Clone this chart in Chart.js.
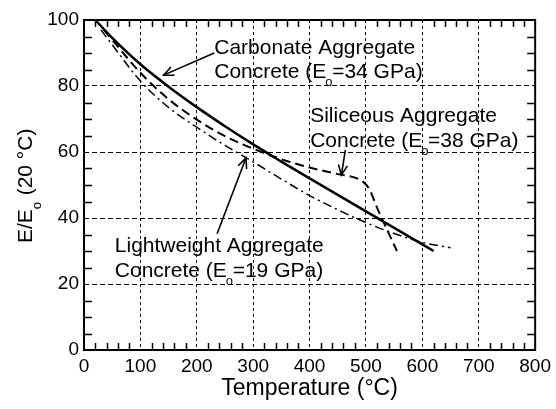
<!DOCTYPE html>
<html>
<head>
<meta charset="utf-8">
<script src="https://cdn.jsdelivr.net/npm/chart.js@4/dist/chart.umd.min.js"></script>
<style>html,body{margin:0;padding:0;background:#fff}canvas{display:block}</style>
</head>
<body>
<canvas id="c" width="556" height="409"></canvas>
<script>
/* ===== DATA ===== */
const xTickVals=[0,100,200,300,400,500,600,700,800];
const yTickVals=[0,20,40,60,80,100];

// carbonate aggregate concrete (solid)
const carbT=[20,50,100,150,200,250,300,350,400,450,500,550,600,620];
const carbE=[100,94.6,86.6,79.8,73.6,67.8,62.3,57.1,52,47,42,37,32,30];
// siliceous aggregate concrete (dashed)
const silT=[35,50,100,150,200,250,300,350,400,450,490,505,520,540,555];
const silE=[97,94,84,76,69.8,64.8,61,57.8,55.3,53.3,51.5,49,43,35.5,30];
// lightweight aggregate concrete (dash-dot)
const lwT=[30,50,100,150,200,250,300,350,400,450,500,550,600,650];
const lwE=[97,92.5,81.5,73.5,67.5,62,57,51.8,46.8,42.5,38.6,35.3,32.6,31];

// labels: [x, baseline y (line 1), baseline y (line 2), line 1, before sub, sub, after sub]
const notes=[
  [231,89.7,82.3,'Carbonate Aggregate','Concrete (E','o',' =34 GPa)'],
  [401,69.2,61.6,'Siliceous Aggregate','Concrete (E','o',' =38 GPa)'],
  [54.6,29.8,22.2,'Lightweight Aggregate','Concrete (E','o',' =19 GPa)']
];
// arrows: from (x0,y0) to tip (x1,y1)
const arrows=[
  [231,90,141,83.3],
  [463.4,60.6,456.4,53],
  [236,35.2,287.2,58.2]
];

const FONT='"Liberation Sans", Arial, Helvetica, sans-serif';
Chart.defaults.font.family=FONT;
Chart.defaults.color='#000';

const pts=(xs,ys)=>xs.map((x,i)=>({x:x,y:ys[i]}));

function arrowHead(ctx,x0,y0,x1,y1){
  const a=Math.atan2(y1-y0,x1-x0),L=11,w=0.42;
  ctx.beginPath();
  ctx.moveTo(x1-L*Math.cos(a-w),y1-L*Math.sin(a-w));
  ctx.lineTo(x1,y1);
  ctx.lineTo(x1-L*Math.cos(a+w),y1-L*Math.sin(a+w));
  ctx.stroke();
}

const deco={
  id:'deco',
  afterDatasetsDraw(chart){
    const {ctx,chartArea:ca,scales:{x,y}}=chart;
    ctx.save();
    ctx.strokeStyle='#000';ctx.fillStyle='#000';
    // minor ticks
    ctx.lineWidth=1.5;
    ctx.beginPath();
    for(let v=20;v<800;v+=20){
      if(v%100===0)continue;
      const px=Math.round(x.getPixelForValue(v))+0.5;
      ctx.moveTo(px,ca.bottom);ctx.lineTo(px,ca.bottom-7);
      ctx.moveTo(px,ca.top);ctx.lineTo(px,ca.top+7);
    }
    for(let v=5;v<100;v+=5){
      if(v%20===0)continue;
      const py=Math.round(y.getPixelForValue(v))+0.5;
      ctx.moveTo(ca.left,py);ctx.lineTo(ca.left+8,py);
      ctx.moveTo(ca.right,py);ctx.lineTo(ca.right-8,py);
    }
    ctx.stroke();
    // frame
    ctx.lineWidth=2;
    ctx.strokeRect(ca.left,ca.top,ca.right-ca.left,ca.bottom-ca.top);

    // annotations
    ctx.textBaseline='alphabetic';ctx.textAlign='left';
    notes.forEach(n=>{
      const px=x.getPixelForValue(n[0]);
      ctx.font='21px '+FONT;
      ctx.fillText(n[3],px,y.getPixelForValue(n[1]));
      const by=y.getPixelForValue(n[2]);
      ctx.fillText(n[4],px,by);
      let w=ctx.measureText(n[4]).width;
      ctx.font='13px '+FONT;
      ctx.fillText(n[5],px+w-1,by+8);
      ctx.font='21px '+FONT;
      ctx.fillText(n[6],px+w,by);
    });
    // arrows
    ctx.lineWidth=1.6;
    arrows.forEach(a=>{
      const x0=x.getPixelForValue(a[0]),y0=y.getPixelForValue(a[1]);
      const x1=x.getPixelForValue(a[2]),y1=y.getPixelForValue(a[3]);
      ctx.beginPath();ctx.moveTo(x0,y0);ctx.lineTo(x1,y1);ctx.stroke();
      arrowHead(ctx,x0,y0,x1,y1);
    });

    // y axis title E/Eo (20 °C)
    ctx.translate(32,243);
    ctx.rotate(-Math.PI/2);
    ctx.font='21px '+FONT;
    ctx.fillText('E/E',0,0);
    let w=ctx.measureText('E/E').width;
    ctx.font='13px '+FONT;
    ctx.fillText('o',w,9);
    ctx.font='21px '+FONT;
    ctx.fillText(' (20 °C)',w+8,0);
    ctx.restore();
  }
};

new Chart(document.getElementById('c'),{
  type:'line',
  data:{datasets:[
    {label:'Carbonate',data:pts(carbT,carbE),borderColor:'#000',borderWidth:2.5,pointRadius:0,fill:false,cubicInterpolationMode:'monotone'},
    {label:'Siliceous',data:pts(silT,silE),borderColor:'#000',borderWidth:2,borderDash:[9,5],pointRadius:0,fill:false,cubicInterpolationMode:'monotone'},
    {label:'Lightweight',data:pts(lwT,lwE),borderColor:'#000',borderWidth:1.5,borderDash:[9,4,2,4],pointRadius:0,fill:false,cubicInterpolationMode:'monotone'}
  ]},
  options:{
    responsive:false,animation:false,
    layout:{padding:{left:0,right:18,top:20,bottom:0}},
    plugins:{legend:{display:false},tooltip:{enabled:false}},
    scales:{
      x:{type:'linear',min:0,max:800,
        afterBuildTicks:s=>{s.ticks=xTickVals.map(v=>({value:v}));},
        afterFit:s=>{s.height=59;},
        ticks:{padding:5,font:{size:19},maxRotation:0},
        grid:{color:'#000',lineWidth:1,drawTicks:false},
        border:{display:false,dash:[3,3]},
        title:{display:true,text:'Temperature (°C)',font:{size:23},padding:{top:0,bottom:7}}
      },
      y:{type:'linear',min:0,max:100,
        afterBuildTicks:s=>{s.ticks=yTickVals.map(v=>({value:v}));},
        afterFit:s=>{s.width=84;},
        ticks:{padding:5,font:{size:19}},
        grid:{color:'#000',lineWidth:1,drawTicks:false},
        border:{display:false,dash:[5,3]}
      }
    }
  },
  plugins:[deco]
});
</script>
</body>
</html>
